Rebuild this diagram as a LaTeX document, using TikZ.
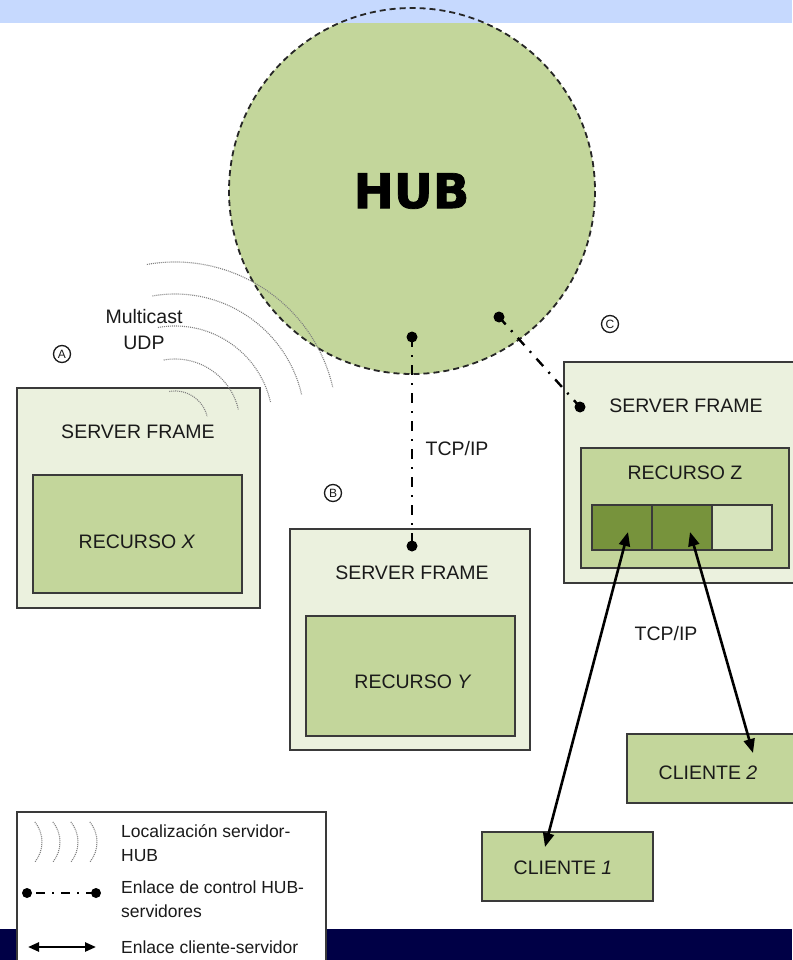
\documentclass[tikz,border=0pt]{standalone}
\usepackage{fontspec}
\setmainfont{Liberation Sans}
\newfontfamily\hubfont{DejaVu Sans}[BoldFeatures={FakeBold=1.5}]
\usetikzlibrary{arrows.meta}

\definecolor{bandblue}{HTML}{C6D9FE}
\definecolor{navybar}{HTML}{000046}
\definecolor{paleGreen}{HTML}{EBF1DE}
\definecolor{midGreen}{HTML}{C3D69B}
\definecolor{darkGreen}{HTML}{77933C}
\definecolor{lightCell}{HTML}{D7E4BD}
\definecolor{edgeGray}{HTML}{3A3A3A}
\definecolor{inkText}{HTML}{1A1A1A}

\tikzset{
  frame/.style={draw=edgeGray, line width=1.2pt, fill=paleGreen, inner sep=0pt},
  resbox/.style={draw=edgeGray, line width=1.2pt, fill=midGreen, inner sep=0pt},
  cell/.style={draw=edgeGray, line width=1.2pt, inner sep=0pt,
               minimum width=60pt, minimum height=45pt},
  lbl/.style={font=\fontsize{19.5}{26}\selectfont, text=inkText, inner sep=0pt, align=center},
  legtxt/.style={font=\fontsize{17.5}{24}\selectfont, text=inkText, inner sep=0pt, align=left, anchor=west},
  tag/.style={circle, draw=inkText, line width=1.3pt, minimum size=17pt, inner sep=0pt,
              text=inkText, font=\fontsize{12}{12}\selectfont},
  ctrl/.style={line width=2.4pt, dash pattern=on 10pt off 8pt on 2pt off 8pt},
  pin/.style={circle, fill=black, minimum size=11pt, inner sep=0pt},
  link/.style={line width=2.6pt,
    {Triangle[length=14pt,width=11pt]}-{Triangle[length=14pt,width=11pt]}},
  wave/.style={draw=gray, line width=1.1pt, dash pattern=on 1pt off 1pt},
  hubline/.style={draw=black!85, line width=1.8pt, dash pattern=on 6pt off 4pt},
}

\begin{document}
\begin{tikzpicture}[x=1pt, y=-1pt]
\useasboundingbox (0,0) rectangle (792,960);
\fill[white] (0,0) rectangle (792,960);

% HUB disc, header band, then the dashed rim on top of both
\node[circle, fill=midGreen, minimum size=366pt, inner sep=0pt] (hub) at (412,191) {};
\fill[bandblue] (0,0) rectangle (792,23);
\draw[hubline] (hub.center) circle[radius=183];
\node[font=\hubfont\bfseries\fontsize{48}{48}\selectfont, inner sep=0pt] (hubtxt) at (411.5,191) {HUB};

% Server A
\node[frame, minimum width=243pt, minimum height=220pt] (srvA) at (138.5,498) {};
\node[resbox, minimum width=209pt, minimum height=118pt] (resX) at (137.5,534) {};
\node[lbl] (srvAtxt) at (138,432) {SERVER FRAME};
\node[lbl] (resXtxt) at (137,542) {RECURSO \textit{X}};

% Server B
\node[frame, minimum width=240pt, minimum height=221pt] (srvB) at (410,639.5) {};
\node[resbox, minimum width=209pt, minimum height=120pt] (resY) at (410.5,676) {};
\node[lbl] (srvBtxt) at (412,573) {SERVER FRAME};
\node[lbl] (resYtxt) at (413,682) {RECURSO \textit{Y}};

% Server C
\node[frame, minimum width=240pt, minimum height=221pt] (srvC) at (684,472.5) {};
\node[resbox, minimum width=208pt, minimum height=120pt] (resZ) at (685,508) {};
\node[lbl] (srvCtxt) at (686,406) {SERVER FRAME};
\node[lbl] (resZtxt) at (685,473) {RECURSO Z};
\node[cell, fill=darkGreen] (z1) at (622,527.5) {};
\node[cell, fill=darkGreen] (z2) at (682,527.5) {};
\node[cell, fill=lightCell] (z3) at (742,527.5) {};

% Clients
\node[resbox, minimum width=171pt, minimum height=69pt] (cli1) at (567.5,866.5) {};
\node[lbl] (cli1txt) at (563,868) {CLIENTE \textit{1}};
\node[resbox, minimum width=168pt, minimum height=69pt] (cli2) at (711,768.5) {};
\node[lbl] (cli2txt) at (708,773) {CLIENTE \textit{2}};

% Location waves spreading from server A
\coordinate (wavec) at (175,424);
\foreach \r in {33,65,98,130,162}
  \draw[wave] (wavec) ++(-100:\r) arc[start angle=-100, end angle=-13, radius=\r];

% Control links HUB -- servers
\node[pin] (hubpinB) at (412,337) {};
\node[pin] (hubpinC) at (499,317) {};
\node[pin] (pinB) at (412,546) {};
\node[pin] (pinC) at (580,407) {};
\draw[ctrl] (hubpinB.center) -- (pinB.center);
\draw[ctrl] (hubpinC.center) -- (pinC.center);

% Client--server links
\coordinate (tipZ1) at (628,532);
\coordinate (tipZ2) at (690,532);
\coordinate (tipC1) at (545,847);
\coordinate (tipC2) at (753,753);
\draw[link] (tipC1) -- (tipZ1);
\draw[link] (tipC2) -- (tipZ2);

% Labels
\node[lbl] (mcast) at (144,330) {Multicast\\UDP};
\node[lbl] (tcpB) at (457,449) {TCP/IP};
\node[lbl] (tcpC) at (666,634) {TCP/IP};
\node[tag] (tagA) at (62,354) {A};
\node[tag] (tagB) at (333,493) {B};
\node[tag] (tagC) at (610,324) {C};

% Footer bar and legend
\fill[navybar] (0,929) rectangle (792,960);
\node[draw=edgeGray, line width=1.2pt, fill=white, minimum width=309pt,
      minimum height=160pt, inner sep=0pt] (legend) at (171.5,892) {};
\foreach \b in {42,60,78,97}
  \draw[wave] (\b-32,842) ++(-39:32) arc[start angle=-39, end angle=39, radius=32];
\node[legtxt] (leg1) at (121,843) {Localización servidor-\\HUB};
\node[pin, minimum size=10pt] (legpinL) at (27,893) {};
\node[pin, minimum size=10pt] (legpinR) at (96,893) {};
\draw[line width=2.4pt, dash pattern=on 2pt off 7pt on 9pt off 7pt]
  (legpinL.center) -- (legpinR.center);
\node[legtxt] (leg2) at (121,899) {Enlace de control HUB-\\servidores};
\coordinate (legarrL) at (28,947);
\coordinate (legarrR) at (96,947);
\draw[line width=2.4pt, {Triangle[length=11pt,width=9pt]}-{Triangle[length=11pt,width=9pt]}]
  (legarrL) -- (legarrR);
\node[legtxt] (leg3) at (121,947) {Enlace cliente-servidor};
\end{tikzpicture}
\end{document}
